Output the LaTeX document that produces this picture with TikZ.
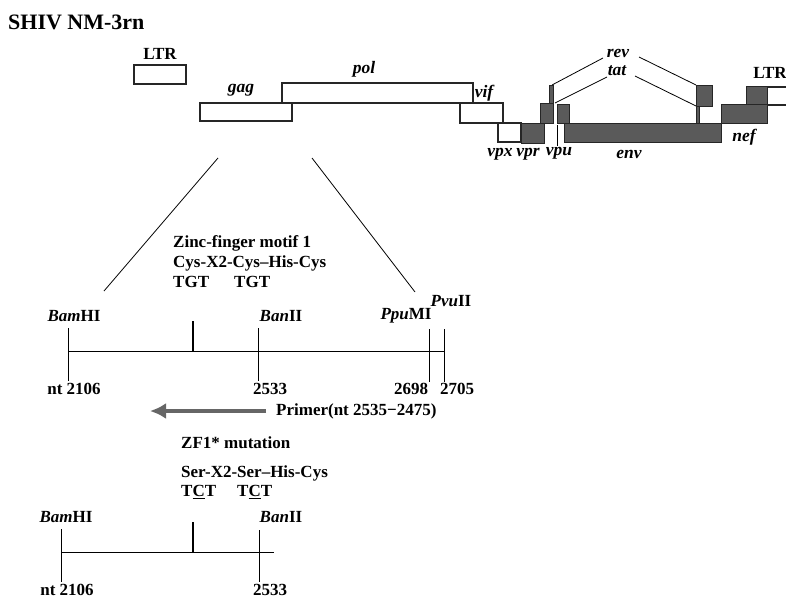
\documentclass[tikz,border=0pt]{standalone}
\usepackage{fontspec}
\setmainfont{Liberation Serif}
\usetikzlibrary{arrows.meta}
\definecolor{exongray}{HTML}{5A5A5A}
\tikzset{
  orf/.style={draw=black!85, line width=1.1pt, fill=white},
  exon/.style={draw=black!85, line width=.6pt, fill=exongray},
  site/.style={line width=.8pt},
  motif/.style={line width=1.8pt},
  lbl/.style={font=\bfseries\fontsize{17}{18}\selectfont, inner sep=0pt},
  gene/.style={font=\bfseries\itshape\fontsize{17.5}{18}\selectfont, inner sep=0pt}
}
\begin{document}
\begin{tikzpicture}[x=1pt,y=-1pt]
  \useasboundingbox (0,0) rectangle (786,599);
  \node[lbl, font=\bfseries\fontsize{22}{23}\selectfont, anchor=west] (title) at (8,22) {SHIV NM-3rn};
  % genome
  \draw[orf] (134,65) rectangle (186,84);
  \draw[orf] (282,83) rectangle (473,103);
  \draw[orf] (200,103) rectangle (292,121);
  \draw[orf] (460,103) rectangle (503,123);
  \draw[orf] (498,123) rectangle (521,142);
  \fill[white] (767,87) rectangle (786,105);
  \draw[orf] (786,87) -- (767,87) -- (767,105) -- (786,105);
  \draw[exon] (521,123) rectangle (544,143);
  \draw[exon] (540,103) rectangle (553,123);
  \draw[exon] (549,85) rectangle (553,103);
  \draw[exon] (557,104) rectangle (569,123);
  \draw[exon] (564,123) rectangle (721,142);
  \draw[exon] (696,105) rectangle (699,123);
  \draw[exon] (696,85) rectangle (712,106);
  \draw[exon] (721,104) rectangle (767,123);
  \draw[exon] (746,86) rectangle (767,104);
  % splice lines
  \coordinate (RevA) at (552,85);
  \coordinate (RevB) at (603,58);
  \coordinate (RevC) at (639,57);
  \coordinate (RevD) at (696,85);
  \coordinate (TatA) at (555,103);
  \coordinate (TatB) at (607,77);
  \coordinate (TatC) at (635,76);
  \coordinate (TatD) at (696,106);
  \draw[site] (RevA) -- (RevB);
  \draw[site] (RevC) -- (RevD);
  \draw[site] (TatA) -- (TatB);
  \draw[site] (TatC) -- (TatD);
  \coordinate (VpuA) at (557,125);
  \coordinate (VpuB) at (557,146);
  \draw[site] (VpuA) -- (VpuB);
  \node[lbl] (ltrA) at (160,54) {LTR};
  \node[lbl] (ltrB) at (770,73) {LTR};
  \node[gene] (gag) at (241,90) {gag};
  \node[gene] (pol) at (364,69) {pol};
  \node[gene] (vif) at (484,93) {vif};
  \node[gene] (vpx) at (500,154) {vpx};
  \node[gene] (vpr) at (528,154) {vpr};
  \node[gene] (vpu) at (559,153) {vpu};
  \node[gene] (env) at (629,154) {env};
  \node[gene] (nef) at (744,137) {nef};
  \node[gene] (rev) at (618,53) {rev};
  \node[gene] (tat) at (617,71) {tat};
  % funnel
  \coordinate (FunA) at (218,158);
  \coordinate (FunB) at (104,291);
  \coordinate (FunC) at (312,158);
  \coordinate (FunD) at (415,292);
  \draw[site] (FunA) -- (FunB);
  \draw[site] (FunC) -- (FunD);
  % wild type
  \node[lbl, anchor=west] (zfA) at (173,243) {Zinc-finger motif 1};
  \node[lbl, anchor=west] (zfB) at (173,263) {Cys-X2-Cys--His-Cys};
  \node[lbl, anchor=west] (zfC) at (173,282) {TGT};
  \node[lbl, anchor=west] (zfD) at (234,282) {TGT};
  \coordinate (X0) at (68,351);
  \coordinate (X1) at (444,351);
  \draw[site] (X0) -- (X1);
  \draw[site] (68,328) -- (68,381);
  \draw[motif] (193,321) -- (193,351);
  \draw[site] (258,328) -- (258,381);
  \draw[site] (429,329) -- (429,382);
  \draw[site] (444,329) -- (444,382);
  \node[lbl] (bamA) at (74,316) {\textit{Bam}HI};
  \node[lbl] (banA) at (281,316) {\textit{Ban}II};
  \node[lbl] (ppu) at (406,316) {\textit{Ppu}MI};
  \node[lbl] (pvu) at (451,301) {\textit{Pvu}II};
  \node[lbl] (ntA) at (74,389) {nt 2106};
  \node[lbl] (ntB) at (270,389) {2533};
  \node[lbl] (ntC) at (411,389) {2698};
  \node[lbl] (ntD) at (457,389) {2705};
  % primer
  \node[lbl, anchor=west] (primer) at (276,411) {Primer(nt 2535−2475)};
  \coordinate (ArrowEnd) at (150,411);
  \draw[-{Latex[length=16pt,width=16pt]}, line width=4pt, black!60] (primer.west)+(-10,0) -- (ArrowEnd);
  % mutant
  \node[lbl, anchor=west] (mutA) at (181,443) {ZF1* mutation};
  \node[lbl, anchor=west] (mutB) at (181,473) {Ser-X2-Ser--His-Cys};
  \node[lbl, anchor=west] (mutC) at (181,492) {T\underline{C}T};
  \node[lbl, anchor=west] (mutD) at (237,492) {T\underline{C}T};
  \coordinate (Y0) at (61,552);
  \coordinate (Y1) at (274,552);
  \draw[site] (Y0) -- (Y1);
  \draw[site] (61,529) -- (61,582);
  \draw[motif] (193,522) -- (193,552);
  \draw[site] (259,530) -- (259,582);
  \node[lbl] (bamB) at (66,517) {\textit{Bam}HI};
  \node[lbl] (banB) at (281,517) {\textit{Ban}II};
  \node[lbl] (ntE) at (67,590) {nt 2106};
  \node[lbl] (ntF) at (270,590) {2533};
\end{tikzpicture}
\end{document}
